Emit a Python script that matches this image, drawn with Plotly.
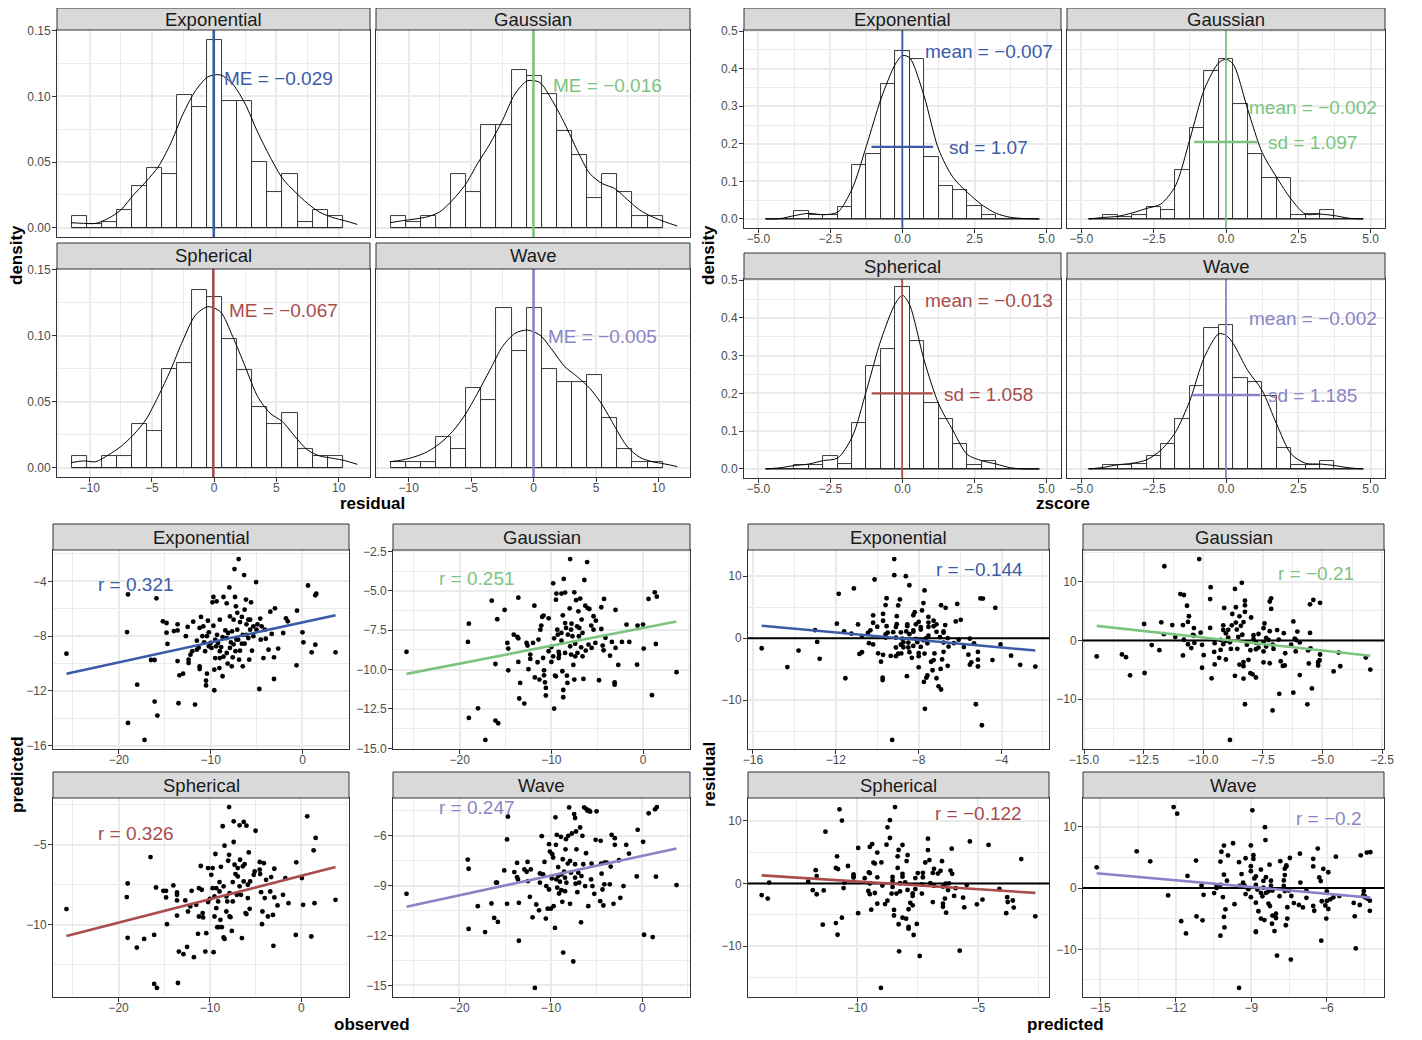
import numpy as np
import plotly.graph_objects as go

# ----------------------------------------------------------------- data
models = ["Exponential", "Gaussian", "Spherical", "Wave"]
model_colors = ["#3B5BA9", "#7CC47F", "#A84C4C", "#8A84C6"]

# residual histograms (density per bin)
resid_bin_edges = [-11.45, -10.24, -9.03, -7.82, -6.61, -5.40, -4.19, -2.98, -1.77, -0.56,
                   0.65, 1.86, 3.07, 4.28, 5.49, 6.70, 7.91, 9.12, 10.33]
resid_hist_exponential = [0.0088, 0.0030, 0.0044, 0.0134, 0.0320, 0.0457, 0.0412, 0.1010, 0.0920,
                          0.1427, 0.0967, 0.0967, 0.0503, 0.0273, 0.0412, 0.0044, 0.0134, 0.0088]
resid_hist_gaussian = [0.0088, 0.0045, 0.0088, 0.0, 0.0412, 0.0273, 0.0785, 0.0785, 0.1202,
                       0.1154, 0.1015, 0.0737, 0.0553, 0.0227, 0.0412, 0.0273, 0.0088, 0.0088]
resid_hist_spherical = [0.0091, 0.0, 0.0091, 0.0091, 0.0328, 0.0280, 0.0745, 0.0790, 0.1346,
                        0.1295, 0.0975, 0.0740, 0.0462, 0.0328, 0.0417, 0.0139, 0.0091, 0.0091]
resid_hist_wave = [0.0045, 0.0045, 0.0045, 0.0235, 0.0139, 0.0606, 0.0513, 0.1212, 0.0884,
                   0.1212, 0.0745, 0.0651, 0.0651, 0.0699, 0.0374, 0.0139, 0.0045, 0.0045]

resid_density_x = [-11.5, -10.5, -9.5, -8.5, -7.5, -6.5, -5.5, -4.5, -3.5, -2.5, -1.5, -0.5,
                   0.5, 1.5, 2.5, 3.5, 4.5, 5.5, 6.5, 7.5, 8.5, 9.5, 10.5, 11.5]
resid_density_exponential = [0.0038, 0.0033, 0.0033, 0.0071, 0.0134, 0.0247, 0.0348, 0.0462, 0.0639,
                             0.0866, 0.1043, 0.1149, 0.1164, 0.1093, 0.0942, 0.0727, 0.0538, 0.0374,
                             0.0273, 0.0185, 0.0117, 0.0078, 0.0053, 0.0025]
resid_density_gaussian = [0.0038, 0.0053, 0.0066, 0.0083, 0.0121, 0.0210, 0.0323, 0.0487, 0.0639,
                          0.0816, 0.1018, 0.1119, 0.1106, 0.0967, 0.0790, 0.0588, 0.0412, 0.0336,
                          0.0298, 0.0215, 0.0134, 0.0083, 0.0045, 0.0013]
resid_density_spherical = [0.0038, 0.0051, 0.0045, 0.0096, 0.0159, 0.0247, 0.0361, 0.0538, 0.0739,
                           0.0967, 0.1156, 0.1220, 0.1182, 0.0992, 0.0765, 0.0538, 0.0412, 0.0348,
                           0.0235, 0.0134, 0.0088, 0.0071, 0.0053, 0.0025]
resid_density_wave = [0.0045, 0.0058, 0.0083, 0.0121, 0.0184, 0.0273, 0.0399, 0.0563, 0.0740,
                      0.0917, 0.1018, 0.1043, 0.1005, 0.0891, 0.0765, 0.0689, 0.0601, 0.0475,
                      0.0311, 0.0159, 0.0078, 0.0045, 0.0028, 0.0008]
me_values = [-0.029, -0.016, -0.067, -0.005]

# z-score histograms
zscore_bin_edges = [-4.75, -4.25, -3.75, -3.25, -2.75, -2.25, -1.75, -1.25, -0.75, -0.25,
                    0.25, 0.75, 1.25, 1.75, 2.25, 2.75, 3.25, 3.75, 4.25, 4.75]
zscore_hist_exponential = [0, 0, 0.022, 0.011, 0.011, 0.033, 0.143, 0.174, 0.360, 0.447,
                           0.427, 0.164, 0.088, 0.077, 0.034, 0.011, 0, 0, 0]
zscore_hist_gaussian = [0, 0.011, 0.006, 0.011, 0.032, 0.023, 0.131, 0.241, 0.394, 0.427,
                        0.306, 0.174, 0.109, 0.109, 0.011, 0.013, 0.023, 0, 0]
zscore_hist_spherical = [0, 0, 0.011, 0.011, 0.034, 0.013, 0.122, 0.273, 0.317, 0.481,
                         0.340, 0.175, 0.133, 0.066, 0.011, 0.022, 0, 0, 0]
zscore_hist_wave = [0, 0.011, 0.011, 0.013, 0.034, 0.066, 0.132, 0.219, 0.372, 0.381,
                    0.242, 0.230, 0.194, 0.056, 0.011, 0.011, 0.022, 0, 0]

zscore_density_x = [-4.75, -4.25, -3.75, -3.25, -2.75, -2.25, -1.75, -1.25, -0.75, -0.25, 0.0,
                    0.25, 0.75, 1.25, 1.75, 2.25, 2.75, 3.25, 3.75, 4.25, 4.75]
zscore_density_exponential = [0.0, 0.001, 0.009, 0.015, 0.0115, 0.018, 0.080, 0.195, 0.319, 0.412, 0.435,
                              0.429, 0.327, 0.186, 0.111, 0.071, 0.038, 0.015, 0.0044, 0.001, 0.0]
zscore_density_gaussian = [0.0, 0.004, 0.007, 0.016, 0.028, 0.040, 0.088, 0.212, 0.345, 0.416, 0.425,
                           0.412, 0.292, 0.177, 0.111, 0.053, 0.013, 0.013, 0.009, 0.002, 0.0]
zscore_density_spherical = [0.0, 0.003, 0.009, 0.013, 0.022, 0.029, 0.084, 0.208, 0.341, 0.438, 0.460,
                            0.434, 0.288, 0.173, 0.102, 0.038, 0.022, 0.013, 0.003, 0.0, 0.0]
zscore_density_wave = [0.0, 0.004, 0.011, 0.015, 0.024, 0.050, 0.097, 0.181, 0.296, 0.358, 0.354,
                       0.332, 0.261, 0.208, 0.119, 0.040, 0.015, 0.013, 0.009, 0.003, 0.0]
zscore_means = [-0.007, -0.002, -0.013, -0.002]
zscore_sds = [1.07, 1.097, 1.058, 1.185]

# observed vs predicted (cross-validation points)
observed_exponential = [
    -25.7, -19.0, -19.1, -18.0, -19.0, -17.2, -15.9, -16.1, -15.8, -16.5,
    -16.1, -15.2, -14.8, -14.8, -14.7, -14.0, -13.6, -13.6, -13.6, -13.4,
    -13.5, -13.0, -12.7, -12.5, -12.4, -12.2, -12.4, -11.9, -11.7, -11.2,
    -11.05, -11.5, -11.3, -11.2, -10.9, -10.8, -10.7, -10.6, -10.4, -10.5,
    -10.5, -10.3, -10.2, -10.0, -9.8, -9.7, -9.7, -9.5, -9.4, -9.5,
    -9.6, -9.6, -9.35, -9.0, -9.0, -9.05, -8.7, -8.6, -8.4, -8.25,
    -8.25, -8.15, -7.96, -7.9, -7.8, -7.6, -7.5, -7.4, -7.35, -7.25,
    -7.1, -7.0, -6.9, -6.95, -6.8, -6.6, -6.5, -6.5, -6.35, -6.3,
    -6.3, -6.15, -6.1, -5.9, -5.8, -5.7, -5.6, -5.5, -5.35, -5.05,
    -5.0, -4.7, -4.6, -4.55, -4.25, -4.1, -4.0, -3.7, -3.5, -3.35,
    -3.1, -3.1, -3.0, -2.65, -2.1, -1.8, -1.6, -0.65, -0.6, 0.0,
    0.1, 0.6, 1.0, 1.4, 1.5, 1.4, 3.6, -10.4, -10.2, -9.9,
    -9.3, -9.2, -8.85, -8.7, -8.6, -8.1, -7.9, -7.67, -7.5, -7.3,
    -7.1, -6.8, -6.6, -6.1, -5.9, -5.35, -4.9, -4.45, -11.2, -11.5,
    -12.0, -9.0, -7.7, -7.2, -5.7, -8.25]
predicted_exponential = [
    -9.28, -4.95, -7.70, -11.54, -14.34, -15.58, -5.24, -12.78, -13.80, -9.74,
    -9.74, -6.92, -7.04, -7.75, -8.57, -7.63, -7.14, -7.58, -9.82, -10.86,
    -12.90, -10.74, -8.00, -7.33, -9.96, -9.35, -9.72, -6.94, -13.00, -7.40,
    -6.60, -8.33, -8.84, -10.40, -8.00, -7.28, -8.45, -9.10, -10.74, -11.25,
    -11.60, -6.87, -7.72, -8.50, -5.53, -5.14, -7.24, -8.26, -8.74, -9.60,
    -10.45, -11.95, -5.46, -6.80, -9.10, -10.33, -10.93, -5.14, -7.58, -8.14,
    -9.23, -10.00, -4.44, -6.56, -8.45, -9.55, -6.80, -3.10, -5.14, -5.82,
    -7.53, -8.26, -9.72, -2.37, -9.06, -6.60, -7.90, -10.20, -3.54, -6.07,
    -8.55, -5.33, -7.14, -8.14, -9.72, -6.80, -5.53, -9.06, -7.28, -4.05,
    -7.53, -11.86, -6.72, -8.26, -9.60, -7.53, -8.19, -8.99, -6.21, -7.84,
    -9.55, -11.13, -5.97, -8.91, -7.77, -6.70, -6.92, -10.13, -6.14, -7.72,
    -8.45, -4.30, -9.18, -5.02, -4.90, -8.62, -9.18, -8.00, -8.74, -8.86,
    -7.90, -8.50, -8.80, -8.07, -9.50, -7.77, -8.86, -7.65, -8.60, -9.10,
    -6.30, -6.97, -8.55, -7.90, -6.80, -8.00, -7.14, -7.28, -10.20, -8.99,
    -9.10, -9.60, -10.20, -8.26, -7.53, -5.60]

observed_gaussian = [
    -25.8, -19.0, -19.1, -19.0, -18.0, -17.2, -16.5, -16.1, -16.1, -15.8,
    -15.9, -15.1, -14.8, -14.7, -14.7, -13.6, -14.1, -13.7, -13.6, -13.6,
    -13.4, -13.5, -12.95, -12.7, -12.6, -12.5, -12.3, -12.3, -12.0, -11.85,
    -11.8, -11.5, -11.4, -11.3, -11.2, -11.1, -11.0, -10.9, -10.85, -10.8,
    -10.8, -10.7, -10.6, -10.6, -10.3, -10.3, -10.0, -10.0, -9.8, -9.7,
    -9.6, -9.5, -9.7, -9.45, -9.5, -9.35, -9.3, -9.2, -9.15, -8.9,
    -8.9, -8.8, -8.75, -8.65, -8.7, -8.7, -8.5, -8.5, -8.4, -8.3,
    -8.25, -8.0, -7.95, -7.95, -7.85, -7.8, -7.7, -7.6, -7.5, -7.5,
    -7.4, -7.3, -7.2, -7.15, -7.05, -6.95, -6.85, -6.75, -6.7, -6.6,
    -6.5, -6.4, -6.3, -6.25, -6.1, -6.05, -5.95, -5.85, -5.65, -5.6,
    -5.4, -5.2, -5.15, -4.8, -4.55, -4.55, -4.4, -4.3, -4.25, -4.1,
    -3.6, -3.4, -3.1, -3.1, -3.0, -3.0, -2.7, -2.3, -1.8, -1.5,
    -0.65, -0.6, 0.0, 0.07, 0.6, 0.97, 1.28, 1.5, 1.4, 3.65,
    -8.9, -8.2, -7.85, -7.0, -6.6, -8.5, -9.2, -9.8, -7.4, -5.4]
predicted_gaussian = [
    -8.88, -7.09, -8.25, -13.07, -12.46, -14.47, -5.63, -9.65, -13.24, -13.41,
    -6.81, -6.22, -8.31, -8.67, -10.05, -5.44, -7.79, -7.93, -8.02, -9.52,
    -10.85, -11.84, -12.16, -8.31, -8.48, -9.98, -9.05, -9.33, -8.31, -5.95,
    -10.50, -9.54, -8.10, -10.64, -7.47, -7.21, -6.66, -9.27, -6.58, -10.05,
    -10.37, -10.81, -11.65, -11.17, -6.75, -8.84, -8.57, -9.52, -4.53, -8.02,
    -10.39, -10.43, -12.48, -5.18, -5.57, -7.47, -7.79, -8.88, -9.05, -5.18,
    -8.17, -10.11, -6.56, -4.25, -11.30, -11.76, -5.12, -7.05, -7.36, -10.39,
    -10.85, -6.12, -2.99, -8.53, -9.05, -7.09, -7.89, -9.71, -5.10, -10.64,
    -8.36, -5.60, -7.26, -8.95, -6.31, -7.36, -5.50, -8.59, -6.83, -9.16,
    -10.60, -4.32, -5.95, -8.80, -3.18, -6.10, -8.42, -6.16, -7.21, -8.63,
    -6.62, -8.31, -6.90, -10.68, -6.05, -7.43, -8.48, -8.78, -5.52, -7.99,
    -9.12, -8.25, -10.81, -10.96, -8.63, -6.22, -9.71, -8.25, -7.15, -8.25,
    -9.69, -7.21, -7.15, -8.67, -5.52, -11.63, -5.10, -5.38, -8.38, -10.17,
    -7.68, -7.79, -7.47, -7.89, -7.68, -8.95, -9.27, -9.16, -9.16, -7.47]

observed_spherical = [
    -25.7, -19.0, -19.1, -19.0, -18.0, -17.2, -16.5, -16.1, -16.1, -15.8,
    -15.9, -15.1, -14.8, -14.8, -14.7, -14.0, -13.6, -13.6, -13.6, -13.6,
    -13.5, -13.4, -12.9, -12.7, -12.5, -12.4, -12.15, -12.0, -11.75, -11.5,
    -11.3, -11.2, -11.2, -11.0, -10.9, -10.8, -10.75, -10.5, -10.4, -10.2,
    -10.2, -10.0, -9.85, -9.7, -9.6, -9.5, -9.5, -9.4, -9.3, -9.2,
    -9.1, -9.05, -8.95, -8.85, -8.8, -8.7, -8.6, -8.5, -8.4, -8.4,
    -8.2, -8.1, -8.0, -7.9, -7.85, -7.75, -7.6, -7.5, -7.4, -7.4,
    -7.3, -7.2, -7.05, -6.95, -6.75, -6.7, -6.6, -6.5, -6.4, -6.3,
    -6.3, -6.2, -6.1, -6.0, -6.0, -5.85, -5.75, -5.65, -5.6, -5.2,
    -5.1, -5.0, -4.55, -4.55, -4.5, -4.4, -4.3, -4.25, -4.1, -4.0,
    -3.85, -3.65, -3.4, -3.3, -3.1, -3.05, -2.95, -2.95, -2.6, -2.0,
    -1.75, -1.4, -0.6, -0.55, 0.07, 0.2, 0.65, 1.1, 1.35, 1.57,
    1.45, 3.75, -9.3, -8.95, -8.5, -7.85, -7.5, -6.95, -6.75, -5.85,
    -8.2, -9.7, -7.9]
predicted_spherical = [
    -9.02, -7.42, -8.27, -10.81, -11.42, -10.88, -5.77, -10.63, -13.69, -13.94,
    -7.67, -7.88, -7.88, -8.29, -9.96, -7.54, -7.98, -8.13, -8.48, -9.42,
    -13.63, -11.67, -11.83, -8.48, -11.38, -9.17, -8.85, -7.88, -12.02, -8.75,
    -10.56, -9.48, -7.71, -6.33, -7.81, -9.27, -9.54, -11.67, -10.52, -6.46,
    -8.58, -8.38, -6.88, -6.46, -11.71, -8.23, -9.48, -5.58, -8.96, -10.15,
    -8.54, -10.15, -7.33, -9.69, -6.38, -10.15, -3.85, -10.79, -5.06, -10.88,
    -9.17, -8.54, -6.00, -5.63, -9.48, -9.52, -10.38, -7.33, -4.83, -3.54,
    -6.25, -6.83, -8.13, -6.46, -3.79, -5.94, -8.13, -10.83, -6.35, -3.58,
    -7.29, -6.21, -9.27, -3.81, -9.33, -8.33, -5.48, -9.00, -7.29, -6.88,
    -6.67, -4.13, -6.56, -6.08, -6.83, -7.96, -9.96, -9.17, -6.15, -8.33,
    -7.19, -9.48, -7.92, -7.02, -9.38, -11.31, -8.29, -6.50, -8.79, -8.13,
    -7.08, -8.65, -10.63, -6.10, -7.08, -8.75, -3.23, -10.73, -5.35, -4.58,
    -8.65, -8.44, -7.71, -7.92, -7.60, -8.02, -8.54, -6.98, -7.60, -7.50,
    -8.23, -7.71, -2.65]

observed_wave = [
    -25.8, -19.1, -19.0, -19.0, -18.0, -17.2, -16.5, -16.2, -16.0, -15.9,
    -15.8, -15.1, -14.8, -14.8, -14.7, -14.0, -13.7, -13.7, -13.6, -13.5,
    -13.5, -12.9, -12.65, -12.55, -12.5, -12.3, -12.2, -12.0, -11.75, -11.6,
    -11.3, -11.2, -11.2, -11.0, -10.85, -10.7, -10.55, -10.5, -10.35, -10.2,
    -10.2, -10.1, -10.0, -9.9, -9.85, -9.75, -9.7, -9.55, -9.5, -9.45,
    -9.4, -9.35, -9.3, -9.2, -9.1, -9.0, -8.9, -8.85, -8.75, -8.7,
    -8.65, -8.55, -8.45, -8.4, -8.35, -8.3, -8.15, -8.1, -8.0, -7.9,
    -7.9, -7.8, -7.7, -7.55, -7.45, -7.35, -7.35, -7.3, -7.25, -7.2,
    -7.1, -7.0, -6.9, -6.8, -6.7, -6.55, -6.45, -6.35, -6.25, -6.15,
    -6.1, -6.0, -5.9, -5.8, -5.7, -5.6, -5.55, -5.45, -5.25, -5.1,
    -5.0, -4.6, -4.55, -4.5, -4.45, -4.35, -4.25, -4.15, -4.1, -3.9,
    -3.55, -3.45, -3.35, -3.15, -3.0, -3.0, -2.55, -2.4, -2.05, -1.75,
    -1.45, -0.6, -0.5, 0.1, 0.2, 0.7, 1.15, 1.4, 1.6, 1.5,
    3.75, -8.85, -7.35, -6.65, -8.45, -9.2]
predicted_wave = [
    -9.49, -7.43, -7.98, -11.60, -10.23, -11.79, -10.07, -10.94, -8.82, -8.82,
    -11.18, -8.08, -10.09, -6.22, -4.85, -8.18, -7.63, -8.48, -8.62, -10.03,
    -12.31, -8.02, -8.16, -7.57, -8.72, -9.67, -8.02, -10.90, -15.15, -10.13,
    -10.48, -8.26, -8.82, -6.02, -8.32, -7.57, -10.98, -9.02, -10.38, -6.50,
    -9.23, -6.95, -10.38, -8.56, -7.11, -7.31, -10.23, -11.54, -4.89, -6.54,
    -8.62, -5.94, -9.12, -7.88, -9.47, -8.76, -6.06, -9.27, -9.97, -7.41,
    -13.02, -8.16, -9.33, -6.81, -6.20, -8.82, -7.67, -6.00, -4.29, -7.51,
    -10.09, -8.22, -5.86, -13.56, -4.69, -4.93, -7.71, -8.88, -5.74, -6.81,
    -9.39, -8.22, -8.82, -5.50, -11.20, -6.00, -7.71, -4.29, -9.02, -7.05,
    -4.39, -4.49, -10.23, -4.49, -4.55, -8.62, -7.67, -9.02, -9.49, -6.24,
    -4.53, -9.93, -6.30, -7.67, -8.28, -9.23, -10.19, -8.92, -7.61, -7.61,
    -8.92, -7.85, -5.94, -10.09, -6.14, -6.54, -7.47, -9.73, -9.02, -6.54,
    -7.07, -8.44, -5.64, -6.36, -11.95, -4.65, -12.09, -4.41, -4.27, -8.46,
    -8.96, -8.32, -8.52, -8.42, -8.52, -8.42]

r_obs_pred = [0.321, 0.251, 0.326, 0.247]
r_pred_resid = [-0.144, -0.21, -0.122, -0.2]

# tick labels
resid_x_ticks = [-10, -5, 0, 5, 10]
resid_density_ticks = [0.0, 0.05, 0.10, 0.15]
zscore_x_ticks = [-5.0, -2.5, 0.0, 2.5, 5.0]
zscore_density_ticks = [0.0, 0.1, 0.2, 0.3, 0.4, 0.5]
observed_ticks = [-20, -10, 0]
pred_ticks_exponential = [-16, -12, -8, -4]
pred_ticks_gaussian = [-15.0, -12.5, -10.0, -7.5, -5.0, -2.5]
pred_ticks_spherical = [-10, -5]
pred_ticks_wave = [-15, -12, -9, -6]
resid_ticks_scatter = [-10, 0, 10]

# ----------------------------------------------------------------- assemble
resid_hists = [resid_hist_exponential, resid_hist_gaussian, resid_hist_spherical, resid_hist_wave]
resid_dens = [resid_density_exponential, resid_density_gaussian, resid_density_spherical, resid_density_wave]
z_hists = [zscore_hist_exponential, zscore_hist_gaussian, zscore_hist_spherical, zscore_hist_wave]
z_dens = [zscore_density_exponential, zscore_density_gaussian, zscore_density_spherical, zscore_density_wave]
observed = [observed_exponential, observed_gaussian, observed_spherical, observed_wave]
predicted = [predicted_exponential, predicted_gaussian, predicted_spherical, predicted_wave]
pred_ticks = [pred_ticks_exponential, pred_ticks_gaussian, pred_ticks_spherical, pred_ticks_wave]
pred_tick_dec = [0, 1, 0, 0]

# the page body keeps an 8px margin, so the figure is placed 8px in and sized to fit
OFF = 8
W, H = 1422 - OFF, 1040 - OFF
FONT = "Liberation Sans, Arial, Helvetica, sans-serif"
MINUS = "\u2212"


def fx(v):
    return (v - OFF) / W


def fy(v):
    return 1 - (v - OFF) / H


def fmt_g(v):
    return f"{v:g}".replace("-", MINUS)


def tick_text(vals, dec):
    return [f"{v:.{dec}f}".replace("-", MINUS) for v in vals]


def minor_vals(major, lo, hi):
    step = major[1] - major[0]
    ext = [major[0] - step] + list(major) + [major[-1] + step]
    mids = [(a + b) / 2 for a, b in zip(ext[:-1], ext[1:])]
    return [m for m in mids if lo <= m <= hi]


def padded(values):
    lo, hi = float(np.min(values)), float(np.max(values))
    pad = (hi - lo) * 0.05
    return [lo - pad, hi + pad]


def sfx(n):
    return "" if n == 1 else str(n)


# panel geometry in page pixels: left, right, strip_top, plot_top, plot_bottom
geo = {
    1: (57, 370, 5, 30, 237), 2: (376, 690, 5, 30, 237),
    3: (57, 370, 243, 269, 477), 4: (376, 690, 243, 269, 477),
    5: (744, 1061, 5, 30, 228), 6: (1067, 1385, 5, 30, 228),
    7: (744, 1061, 253, 279, 478), 8: (1067, 1385, 253, 279, 478),
    9: (53, 349, 524, 550, 749), 10: (393, 690, 524, 550, 749),
    11: (53, 349, 772, 798, 997), 12: (393, 690, 772, 798, 997),
    13: (748, 1049, 524, 550, 749), 14: (1083, 1384, 524, 550, 749),
    15: (748, 1049, 772, 798, 997), 16: (1083, 1384, 772, 798, 997),
}

layout = dict(
    width=W, height=H, margin=dict(l=0, r=0, t=0, b=0, autoexpand=False),
    paper_bgcolor="white", plot_bgcolor="white", showlegend=False,
    hovermode=False, font=dict(family=FONT),
)
shapes, annotations, traces = [], [], []


def make_axis(n, which, rng, ticks, dec, show):
    left, right, st, pt, pb = geo[n]
    if which == "x":
        domain = [fx(left), fx(right)]
        anchor = "y" + sfx(n)
        standoff = -4
    else:
        domain = [fy(pb), fy(pt)]
        anchor = "x" + sfx(n)
        standoff = -1
    return dict(
        domain=domain, anchor=anchor, range=rng, automargin=False,
        showline=True, mirror=True, linecolor="#333333", linewidth=1,
        showgrid=True, gridcolor="#EBEBEB", gridwidth=1.6, zeroline=False,
        tickmode="array", tickvals=ticks, ticktext=tick_text(ticks, dec),
        minor=dict(tickmode="array", tickvals=minor_vals(ticks, rng[0], rng[1]),
                   showgrid=True, gridcolor="#EBEBEB", gridwidth=0.8, ticks=""),
        showticklabels=show, ticks="outside" if show else "", ticklen=4,
        tickcolor="#333333", tickwidth=1, ticklabelstandoff=standoff,
        tickfont=dict(family=FONT, size=12, color="#4D4D4D"),
        fixedrange=True,
    )


def add_strip(n, title):
    left, right, st, pt, pb = geo[n]
    shapes.append(dict(type="rect", xref="paper", yref="paper",
                       x0=fx(left), x1=fx(right), y0=fy(pt), y1=fy(max(st, OFF)),
                       fillcolor="#D9D9D9", line=dict(color="#333333", width=1)))
    cy = (st + pt) / 2 + (1.5 if st < OFF else 0)
    annotations.append(dict(xref="paper", yref="paper", x=fx((left + right) / 2),
                            y=fy(cy), text=title, showarrow=False,
                            xanchor="center", yanchor="middle",
                            font=dict(family=FONT, size=18.5, color="#1A1A1A")))


def xy(n):
    return dict(xaxis="x" + sfx(n), yaxis="y" + sfx(n))


def bar_geometry(edges):
    centers = [(a + b) / 2 for a, b in zip(edges[:-1], edges[1:])]
    widths = [b - a for a, b in zip(edges[:-1], edges[1:])]
    return centers, widths


# ---------------- residual histograms (panels 1-4)
rc, rw = bar_geometry(resid_bin_edges)
me_label_pos = [(0.66, 0.114), (1.41, 0.108), (1.05, 0.119), (0.98, 0.0997)]
for i, m in enumerate(models):
    n = 1 + i
    col = model_colors[i]
    traces.append(go.Bar(x=rc, y=resid_hists[i], width=rw,
                         marker=dict(color="white", line=dict(color="#222222", width=0.9)), **xy(n)))
    traces.append(go.Scatter(x=[resid_bin_edges[0], resid_bin_edges[-1]], y=[0, 0], mode="lines",
                             line=dict(color="#222222", width=1), **xy(n)))
    traces.append(go.Scatter(x=resid_density_x, y=resid_dens[i], mode="lines",
                             line=dict(color="black", width=1, shape="spline", smoothing=0.8), **xy(n)))
    shapes.append(dict(type="line", xref="x" + sfx(n), yref="y" + sfx(n) + " domain",
                       x0=me_values[i], x1=me_values[i], y0=0, y1=1,
                       line=dict(color=col, width=2.6)))
    lx, ly = me_label_pos[i]
    annotations.append(dict(xref="x" + sfx(n), yref="y" + sfx(n), x=lx, y=ly,
                            text=f"ME = {fmt_g(me_values[i])}", showarrow=False,
                            xanchor="left", yanchor="middle",
                            font=dict(family=FONT, size=19, color=col)))
    bottom = i >= 2
    leftcol = i % 2 == 0
    layout["xaxis" + sfx(n)] = make_axis(n, "x", [-12.62, 12.52], resid_x_ticks, 0, bottom)
    layout["yaxis" + sfx(n)] = make_axis(n, "y", [-0.0071, 0.1506], resid_density_ticks, 2, leftcol)
    add_strip(n, m)

# ---------------- z-score histograms (panels 5-8)
zc, zw = bar_geometry(zscore_bin_edges)
mean_label_y = [0.447, 0.296, 0.447, 0.398]
sd_level = [0.192, 0.205, 0.200, 0.196]
for i, m in enumerate(models):
    n = 5 + i
    col = model_colors[i]
    traces.append(go.Bar(x=zc, y=z_hists[i], width=zw,
                         marker=dict(color="white", line=dict(color="#222222", width=0.9)), **xy(n)))
    traces.append(go.Scatter(x=[zscore_bin_edges[0], zscore_bin_edges[-1]], y=[0, 0], mode="lines",
                             line=dict(color="#222222", width=1.2), **xy(n)))
    traces.append(go.Scatter(x=zscore_density_x, y=z_dens[i], mode="lines",
                             line=dict(color="black", width=1, shape="spline", smoothing=0.8), **xy(n)))
    mu, sd = zscore_means[i], zscore_sds[i]
    shapes.append(dict(type="line", xref="x" + sfx(n), yref="y" + sfx(n) + " domain",
                       x0=mu, x1=mu, y0=0, y1=1, line=dict(color=col, width=1.8)))
    shapes.append(dict(type="line", xref="x" + sfx(n), yref="y" + sfx(n),
                       x0=mu - sd, x1=mu + sd, y0=sd_level[i], y1=sd_level[i],
                       line=dict(color=col, width=2.4)))
    annotations.append(dict(xref="x" + sfx(n), yref="y" + sfx(n), x=3.0, y=mean_label_y[i],
                            text=f"mean = {fmt_g(mu)}", showarrow=False,
                            xanchor="center", yanchor="middle",
                            font=dict(family=FONT, size=19, color=col)))
    annotations.append(dict(xref="x" + sfx(n), yref="y" + sfx(n), x=3.0, y=sd_level[i] - 0.002,
                            text=f"sd = {fmt_g(sd)}", showarrow=False,
                            xanchor="center", yanchor="middle",
                            font=dict(family=FONT, size=19, color=col)))
    leftcol = i % 2 == 0
    layout["xaxis" + sfx(n)] = make_axis(n, "x", [-5.5, 5.5], zscore_x_ticks, 1, True)
    layout["yaxis" + sfx(n)] = make_axis(n, "y", [-0.024, 0.503], zscore_density_ticks, 1, leftcol)
    add_strip(n, m)

# ---------------- observed vs predicted (panels 9-12)
r_label_bl = [(-18.1, -4.24), (-18.1, -4.25), (-18.1, -4.31), (-18.1, -4.29)]
for i, m in enumerate(models):
    n = 9 + i
    col = model_colors[i]
    ox = np.array(observed[i])
    py = np.array(predicted[i])
    traces.append(go.Scatter(x=ox, y=py, mode="markers",
                             marker=dict(color="black", size=4.8), **xy(n)))
    slope, icpt = np.polyfit(ox, py, 1)
    xl = np.array([ox.min(), ox.max()])
    traces.append(go.Scatter(x=xl, y=icpt + slope * xl, mode="lines",
                             line=dict(color=col, width=2.6), **xy(n)))
    lx, ly = r_label_bl[i]
    annotations.append(dict(xref="x" + sfx(n), yref="y" + sfx(n), x=lx, y=ly,
                            text=f"r = {fmt_g(r_obs_pred[i])}", showarrow=False,
                            xanchor="center", yanchor="middle",
                            font=dict(family=FONT, size=19, color=col)))
    layout["xaxis" + sfx(n)] = make_axis(n, "x", padded(ox), observed_ticks, 0, True)
    layout["yaxis" + sfx(n)] = make_axis(n, "y", padded(py), pred_ticks[i], pred_tick_dec[i], True)
    add_strip(n, m)

# ---------------- predicted vs residual (panels 13-16)
r_label_br = [(-5.05, 11.1), (-5.26, 11.3), (-5.0, 11.2), (-5.92, 11.3)]
for i, m in enumerate(models):
    n = 13 + i
    col = model_colors[i]
    px_ = np.array(predicted[i])
    res = np.array(observed[i]) - px_
    xr = padded(px_)
    traces.append(go.Scatter(x=xr, y=[0, 0], mode="lines",
                             line=dict(color="black", width=2), **xy(n)))
    traces.append(go.Scatter(x=px_, y=res, mode="markers",
                             marker=dict(color="black", size=4.8), **xy(n)))
    slope, icpt = np.polyfit(px_, res, 1)
    xl = np.array([px_.min(), px_.max()])
    traces.append(go.Scatter(x=xl, y=icpt + slope * xl, mode="lines",
                             line=dict(color=col, width=2.6), **xy(n)))
    lx, ly = r_label_br[i]
    annotations.append(dict(xref="x" + sfx(n), yref="y" + sfx(n), x=lx, y=ly,
                            text=f"r = {fmt_g(r_pred_resid[i])}", showarrow=False,
                            xanchor="center", yanchor="middle",
                            font=dict(family=FONT, size=19, color=col)))
    layout["xaxis" + sfx(n)] = make_axis(n, "x", xr, pred_ticks[i], pred_tick_dec[i], True)
    layout["yaxis" + sfx(n)] = make_axis(n, "y", padded(res), resid_ticks_scatter, 0, True)
    add_strip(n, m)

# ---------------- axis titles
title_font = dict(family=FONT, size=17, color="black")
for text, x, y, ang in [("density", 17, 255, -90), ("residual", 373, 504, 0),
                        ("density", 709, 255, -90), ("zscore", 1063, 504, 0),
                        ("predicted", 17, 775, -90), ("observed", 372, 1024, 0),
                        ("residual", 709, 775, -90), ("predicted", 1065, 1024, 0)]:
    annotations.append(dict(xref="paper", yref="paper", x=fx(x), y=fy(y),
                            text=f"<b>{text}</b>", showarrow=False, textangle=ang,
                            xanchor="center", yanchor="middle", font=title_font))

layout["shapes"] = shapes
layout["annotations"] = annotations
layout["bargap"] = 0
layout["barmode"] = "overlay"

fig = go.Figure(data=traces, layout=layout)
fig.write_html("out.html")
